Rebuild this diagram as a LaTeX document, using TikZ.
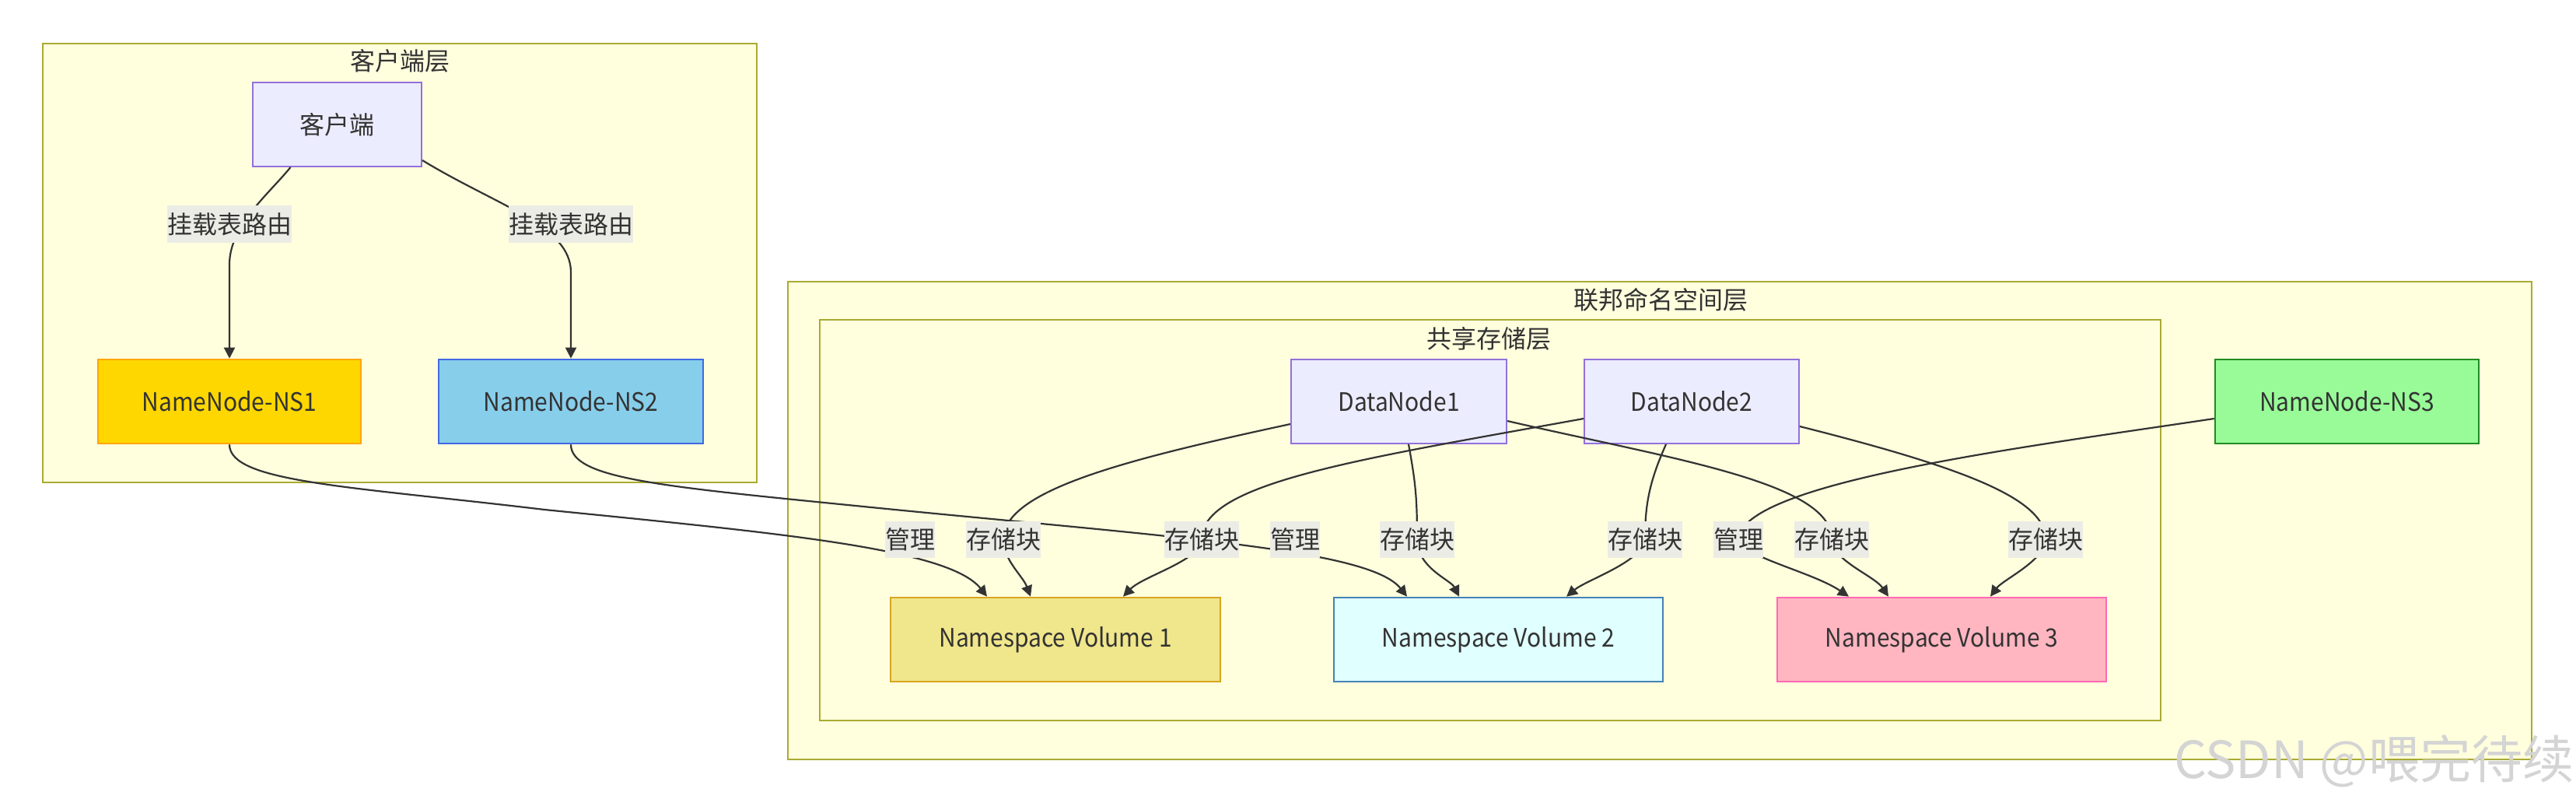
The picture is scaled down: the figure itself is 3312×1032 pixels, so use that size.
\documentclass[tikz,border=0pt]{standalone}
\usepackage{fontspec}
\setmainfont{Noto Sans CJK SC}
\newfontfamily\latinf[FakeStretch=0.92]{Noto Sans CJK SC}
\usetikzlibrary{arrows.meta,calc}
\definecolor{txt}{HTML}{333333}
\definecolor{clfill}{HTML}{FFFFDE}
\definecolor{clline}{HTML}{AAAA33}
\definecolor{defill}{HTML}{ECECFF}
\definecolor{deline}{HTML}{9370DB}
\definecolor{lblbg}{HTML}{ECECE6}
\begin{document}
\begin{tikzpicture}[x=0.5pt,y=-0.5pt,
  every node/.style={text=txt, font=\fontsize{16}{19}\selectfont},
  cluster/.style={draw=clline, fill=clfill, line width=1.1pt},
  ctitle/.style={inner sep=0pt},
  nbox/.style={draw, rectangle, minimum height=54pt, inner sep=0pt, line width=1pt, font=\latinf\fontsize{16.3}{19}\selectfont},
  defnode/.style={nbox, fill=defill, draw=deline},
  elabel/.style={fill=lblbg, inner sep=0pt, minimum height=23.5pt},
  edge/.style={draw=txt, line width=1.1pt, -{Triangle[length=7pt,width=7pt]}}]
\useasboundingbox[fill=white] (0,0) rectangle (3312,1032);

% clusters
\draw[cluster] (55,56) rectangle (973,620);
\draw[cluster] (1013,362) rectangle (3255,976);
\draw[cluster] (1054,411) rectangle (2778,926);
\node[ctitle] (t1) at (514,78) {客户端层};
\node[ctitle] (t2) at (2135,385) {联邦命名空间层};
\node[ctitle] (t3) at (1914,435) {共享存储层};

% nodes
\node[defnode, minimum width=108.5pt, font=\fontsize{16}{19}\selectfont] (client) at (433.5,160) {客户端};
\node[nbox, fill={rgb,255:red,255;green,215;blue,0}, draw={rgb,255:red,255;green,165;blue,0}, line width=1.3pt, minimum width=169pt] (ns1) at (295,516) {NameNode-NS1};
\node[nbox, fill={rgb,255:red,135;green,206;blue,235}, draw={rgb,255:red,65;green,105;blue,225}, line width=1.3pt, minimum width=170pt] (ns2) at (734,516) {NameNode-NS2};
\node[nbox, fill={rgb,255:red,152;green,251;blue,152}, draw={rgb,255:red,34;green,139;blue,34}, line width=1.3pt, minimum width=169.5pt] (ns3) at (3017.5,516) {NameNode-NS3};
\node[defnode, minimum width=138.5pt] (dn1) at (1798.5,516) {DataNode1};
\node[defnode, minimum width=138pt] (dn2) at (2175,516) {DataNode2};
\node[nbox, fill={rgb,255:red,240;green,230;blue,140}, draw={rgb,255:red,218;green,165;blue,32}, line width=1.3pt, minimum width=212pt] (v1) at (1357,822) {Namespace Volume 1};
\node[nbox, fill={rgb,255:red,224;green,255;blue,255}, draw={rgb,255:red,70;green,130;blue,180}, line width=1.3pt, minimum width=211.5pt] (v2) at (1926.5,822) {Namespace Volume 2};
\node[nbox, fill={rgb,255:red,255;green,182;blue,193}, draw={rgb,255:red,255;green,105;blue,180}, line width=1.3pt, minimum width=211.5pt] (v3) at (2496.5,822) {Namespace Volume 3};

% label positions
\coordinate (lc1) at (295,288);
\coordinate (lc2) at (734,288);
\coordinate (lm1) at (1170,693);
\coordinate (lm2) at (1665,693);
\coordinate (lm3) at (2235,693);
\coordinate (ls11) at (1290,693);
\coordinate (ls21) at (1545,693);
\coordinate (ls12) at (1822,693);
\coordinate (ls22) at (2115,693);
\coordinate (ls13) at (2355,693);
\coordinate (ls23) at (2630,693);

% edges
\draw[edge] ([xshift=-30pt]client.south) .. controls (345,250) and (295,290) .. (295,340) -- (ns1.north);
\draw[edge] ([yshift=-23pt]client.east) .. controls (640,265) and (734,290) .. (734,350) -- (ns2.north);

\draw[edge] (ns1.south) .. controls (295,620) and (450,625) .. (700,655) .. controls (1000,685) and (1220,705) .. ([xshift=-44pt]v1.north);
\draw[edge] (ns2.south) .. controls (734,615) and (850,625) .. (1100,650) .. controls (1500,690) and (1760,705) .. ([xshift=-58.75pt]v2.north);
\draw[edge] ([yshift=-11pt]ns3.west) .. controls (2600,575) and (2240,620) .. (lm3) .. controls (2238,715) and (2330,735) .. ([xshift=-59.75pt]v3.north);

\draw[edge] ([yshift=-14.5pt]dn1.west) .. controls (1450,590) and (1290,630) .. (ls11) .. controls (1290,720) and (1315,740) .. ([xshift=-16pt]v1.north);
\draw[edge] ([yshift=-11pt]dn2.west) .. controls (1750,590) and (1545,620) .. (ls21) .. controls (1545,720) and (1470,740) .. ([xshift=43.5pt]v1.north);
\draw[edge] ([xshift=6.25pt]dn1.south) .. controls (1820,620) and (1822,640) .. (ls12) .. controls (1822,730) and (1865,745) .. ([xshift=-25.25pt]v2.north);
\draw[edge] ([xshift=-16.5pt]dn2.south) .. controls (2120,620) and (2115,650) .. (ls22) .. controls (2112,722) and (2040,745) .. ([xshift=43.75pt]v2.north);
\draw[edge] ([yshift=-12.5pt]dn1.east) .. controls (2150,590) and (2355,620) .. (ls13) .. controls (2355,720) and (2410,740) .. ([xshift=-34.25pt]v3.north);
\draw[edge] ([yshift=-16pt]dn2.east) .. controls (2520,600) and (2630,640) .. (ls23) .. controls (2630,720) and (2575,745) .. ([xshift=31.25pt]v3.north);

% edge labels
\node[elabel] (e1) at (lc1) {挂载表路由};
\node[elabel] (e2) at (lc2) {挂载表路由};
\node[elabel] (e3) at (lm1) {管理};
\node[elabel] (e4) at (lm2) {管理};
\node[elabel] (e5) at (lm3) {管理};
\node[elabel] (e6) at (ls11) {存储块};
\node[elabel] (e7) at (ls21) {存储块};
\node[elabel] (e8) at (ls12) {存储块};
\node[elabel] (e9) at (ls22) {存储块};
\node[elabel] (e10) at (ls13) {存储块};
\node[elabel] (e11) at (ls23) {存储块};

% watermark
\node[text=black!17, font=\fontsize{33}{37}\selectfont, inner sep=0pt] (wm) at (3052,978) {CSDN @喂完待续};
\end{tikzpicture}
\end{document}
